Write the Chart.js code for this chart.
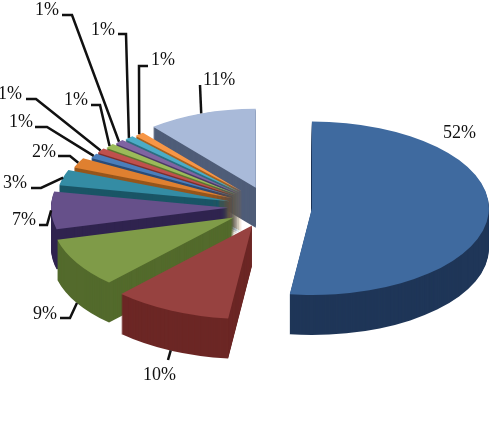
<!DOCTYPE html>
<html>
<head>
<meta charset="utf-8">
<style>
  html, body { margin: 0; padding: 0; background: #fff; }
  canvas { display: block; }
</style>
<script src="https://cdn.jsdelivr.net/npm/chart.js@4/dist/chart.umd.min.js"></script>
</head>
<body>
<canvas id="pie" width="495" height="448"></canvas>
<script>
// Slice values in percent, clockwise from the top
const categories = ['A', 'B', 'C', 'D', 'E', 'F', 'G', 'H', 'I', 'J', 'K', 'L', 'M'];
const shares = [52, 10, 9, 7, 3, 2, 1, 1, 1, 1, 1, 1, 11];

const topColors = ['#3F6A9F', '#974240', '#7F9B48', '#66508A', '#348CA4', '#DF8030',
    '#4A7EBB', '#C0504D', '#9BBB59', '#8064A2', '#4BACC6', '#F79646', '#A9BAD9'];
const wallColors = ['#1F3658', '#6C2725', '#536A2C', '#30244F', '#1A5566', '#96561C',
    '#2A4C78', '#7D2F2D', '#5F7530', '#4B3A66', '#2C6D80', '#A8621F', '#4F5D78'];

// Near slices look bigger than far ones in the perspective of the original
const nearScale = [1, 1.08, 1.03, 1, 0.98, 0.96, 0.92, 0.92, 0.91, 0.9, 0.89, 0.88, 0.91];

// Label text position, then the leader line points working back to the slice
const labelSpots = [
    { x: 443, y: 133, line: [] },
    { x: 143, y: 375, line: [[168, 360]] },
    { x: 33, y: 314, line: [[60, 318], [70, 318]] },
    { x: 12, y: 220, line: [[39, 225], [47, 225]] },
    { x: 3, y: 183, line: [[31, 188], [41, 188]] },
    { x: 32, y: 152, line: [[58, 156], [70, 156]] },
    { x: 9, y: 122, line: [[35, 127], [47, 127]] },
    { x: -2, y: 94, line: [[26, 99], [36, 99]] },
    { x: 64, y: 100, line: [[91, 105], [100, 105]] },
    { x: 35, y: 10, line: [[62, 15], [72, 15]] },
    { x: 91, y: 30, line: [[118, 34], [126, 34]] },
    { x: 151, y: 60, line: [[148, 66], [139, 66]] },
    { x: 203, y: 80, line: [[200, 85]] },
];

const squash = 0.49;    // tilt of the pie
const depth = 40;       // wall height in pixels
const explode = 42;     // how far each slice is pulled out

// Fake 3D: squash the arcs and paint them back to front with a wall under each
const pie3d = {
    id: 'pie3d',
    beforeDatasetsDraw(chart) {
        const ctx = chart.ctx;
        const arcs = chart.getDatasetMeta(0).data;
        const cx = arcs[0].x;
        const cy = arcs[0].y;

        ctx.save();
        ctx.translate(cx, cy);
        ctx.scale(1, squash);
        ctx.translate(-cx, -cy);

        for (let i = arcs.length - 1; i >= 0; i--) {
            const arc = arcs[i];
            const mid = (arc.startAngle + arc.endAngle) / 2;
            const dx = Math.cos(mid) * explode;
            const dy = Math.sin(mid) * explode;

            ctx.fillStyle = wallColors[i];
            for (let d = depth; d > 0; d--) {
                ctx.beginPath();
                ctx.moveTo(arc.x + dx, arc.y + dy + d / squash);
                ctx.arc(arc.x + dx, arc.y + dy + d / squash, arc.outerRadius * nearScale[i], arc.startAngle, arc.endAngle);
                ctx.closePath();
                ctx.fill();
            }

            ctx.save();
            ctx.translate(arc.x + dx, arc.y + dy);
            ctx.scale(nearScale[i], nearScale[i]);
            ctx.translate(-arc.x, -arc.y);
            arc.draw(ctx);
            ctx.restore();
        }
        ctx.restore();
        return false;
    },
    afterDraw(chart) {
        const ctx = chart.ctx;
        const arcs = chart.getDatasetMeta(0).data;

        ctx.save();
        ctx.strokeStyle = '#111';
        ctx.lineWidth = 2.5;
        ctx.fillStyle = '#111';
        ctx.font = '18px "Liberation Serif"';
        ctx.textBaseline = 'middle';
        labelSpots.forEach((spot, i) => {
            if (spot.line.length) {
                const arc = arcs[i];
                const mid = (arc.startAngle + arc.endAngle) / 2;
                const r = arc.outerRadius * nearScale[i] + explode;
                let edgeY = arc.y + Math.sin(mid) * r * squash;
                if (Math.sin(mid) > 0.3) edgeY += depth;
                ctx.beginPath();
                spot.line.forEach((p, j) => (j ? ctx.lineTo(p[0], p[1]) : ctx.moveTo(p[0], p[1])));
                ctx.lineTo(arc.x + Math.cos(mid) * r, edgeY);
                ctx.stroke();
            }
            ctx.fillText(shares[i] + '%', spot.x, spot.y);
        });
        ctx.restore();
    },
};

new Chart(document.getElementById('pie'), {
    type: 'pie',
    data: {
        labels: categories,
        datasets: [{
            data: shares,
            backgroundColor: topColors,
            borderWidth: 0,
            hoverOffset: 0,
        }],
    },
    options: {
        responsive: false,
        animation: false,
        radius: 177,
        layout: { padding: { left: 45, bottom: 34 } },
        plugins: {
            legend: { display: false },
            tooltip: { enabled: false },
        },
    },
    plugins: [pie3d],
});
</script>
</body>
</html>
